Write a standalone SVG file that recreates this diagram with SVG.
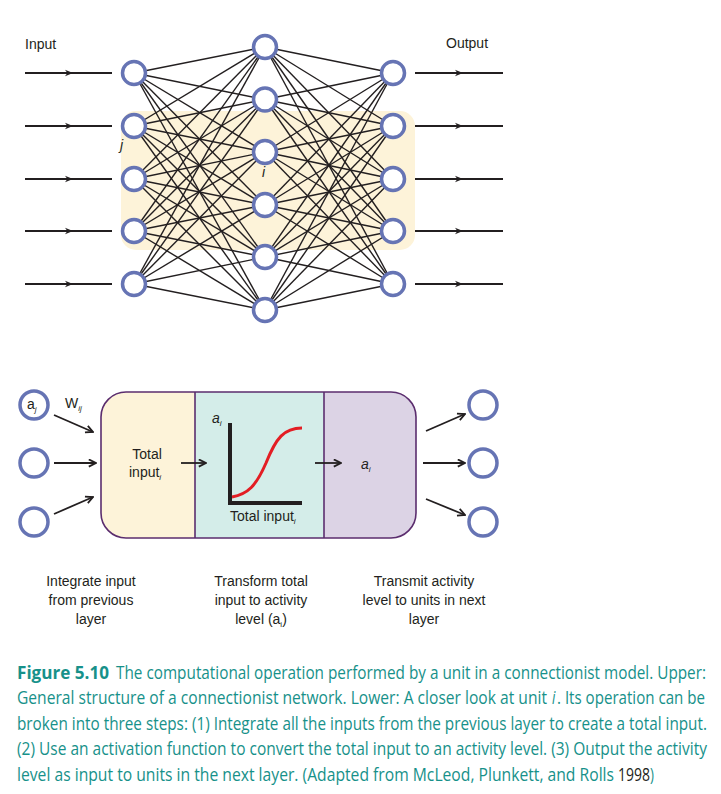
<svg xmlns="http://www.w3.org/2000/svg" width="721" height="794" viewBox="0 0 721 794">
<style>
.lbl{font-family:"Liberation Sans",Arial,sans-serif;font-size:14px;fill:#231f20}
.mid{text-anchor:middle}
.it{font-style:italic}
.sub{font-size:8px}
.node{fill:#fff;stroke:#6674b4;stroke-width:3.5}
.conn line{stroke:#231f20;stroke-width:1.4}
.io{stroke:#231f20;stroke-width:2;fill:none}
.arr{stroke:#231f20;stroke-width:1.8;fill:none}
.cap{font-family:"Open Sans",sans-serif;font-size:18px;fill:#17918a}
</style>
<defs>
<marker id="ah" viewBox="0 0 10 10" refX="10" refY="5" markerWidth="8" markerHeight="8" markerUnits="userSpaceOnUse" orient="auto">
<path d="M0,1 L10,5 L0,9 L3,5 z" fill="#231f20"/>
</marker>
<marker id="oh" viewBox="0 0 10 10" refX="9" refY="5" markerWidth="9" markerHeight="9" markerUnits="userSpaceOnUse" orient="auto">
<path d="M1,1 L9,5 L1,9" fill="none" stroke="#231f20" stroke-width="2"/>
</marker>
<clipPath id="boxclip"><rect x="101" y="392" width="315" height="146" rx="25"/></clipPath>
</defs>
<rect width="721" height="794" fill="#fff"/>

<!-- highlight -->
<rect x="121" y="111" width="294" height="139" rx="15" fill="#fdf3d9"/>

<text class="lbl" x="25" y="49">Input</text>
<text class="lbl" x="446" y="48">Output</text>

<g id="connectors" class="conn">
<line x1="134" y1="73" x2="265" y2="47"/><line x1="134" y1="73" x2="265" y2="99.5"/><line x1="134" y1="73" x2="265" y2="152"/><line x1="134" y1="73" x2="265" y2="205"/><line x1="134" y1="73" x2="265" y2="257"/><line x1="134" y1="73" x2="265" y2="310"/>
<line x1="134" y1="126" x2="265" y2="47"/><line x1="134" y1="126" x2="265" y2="99.5"/><line x1="134" y1="126" x2="265" y2="152"/><line x1="134" y1="126" x2="265" y2="205"/><line x1="134" y1="126" x2="265" y2="257"/><line x1="134" y1="126" x2="265" y2="310"/>
<line x1="134" y1="179" x2="265" y2="47"/><line x1="134" y1="179" x2="265" y2="99.5"/><line x1="134" y1="179" x2="265" y2="152"/><line x1="134" y1="179" x2="265" y2="205"/><line x1="134" y1="179" x2="265" y2="257"/><line x1="134" y1="179" x2="265" y2="310"/>
<line x1="134" y1="231" x2="265" y2="47"/><line x1="134" y1="231" x2="265" y2="99.5"/><line x1="134" y1="231" x2="265" y2="152"/><line x1="134" y1="231" x2="265" y2="205"/><line x1="134" y1="231" x2="265" y2="257"/><line x1="134" y1="231" x2="265" y2="310"/>
<line x1="134" y1="284" x2="265" y2="47"/><line x1="134" y1="284" x2="265" y2="99.5"/><line x1="134" y1="284" x2="265" y2="152"/><line x1="134" y1="284" x2="265" y2="205"/><line x1="134" y1="284" x2="265" y2="257"/><line x1="134" y1="284" x2="265" y2="310"/>
<line x1="393" y1="73" x2="265" y2="47"/><line x1="393" y1="73" x2="265" y2="99.5"/><line x1="393" y1="73" x2="265" y2="152"/><line x1="393" y1="73" x2="265" y2="205"/><line x1="393" y1="73" x2="265" y2="257"/><line x1="393" y1="73" x2="265" y2="310"/>
<line x1="393" y1="126" x2="265" y2="47"/><line x1="393" y1="126" x2="265" y2="99.5"/><line x1="393" y1="126" x2="265" y2="152"/><line x1="393" y1="126" x2="265" y2="205"/><line x1="393" y1="126" x2="265" y2="257"/><line x1="393" y1="126" x2="265" y2="310"/>
<line x1="393" y1="179" x2="265" y2="47"/><line x1="393" y1="179" x2="265" y2="99.5"/><line x1="393" y1="179" x2="265" y2="152"/><line x1="393" y1="179" x2="265" y2="205"/><line x1="393" y1="179" x2="265" y2="257"/><line x1="393" y1="179" x2="265" y2="310"/>
<line x1="393" y1="231" x2="265" y2="47"/><line x1="393" y1="231" x2="265" y2="99.5"/><line x1="393" y1="231" x2="265" y2="152"/><line x1="393" y1="231" x2="265" y2="205"/><line x1="393" y1="231" x2="265" y2="257"/><line x1="393" y1="231" x2="265" y2="310"/>
<line x1="393" y1="284" x2="265" y2="47"/><line x1="393" y1="284" x2="265" y2="99.5"/><line x1="393" y1="284" x2="265" y2="152"/><line x1="393" y1="284" x2="265" y2="205"/><line x1="393" y1="284" x2="265" y2="257"/><line x1="393" y1="284" x2="265" y2="310"/>
<path class="io" d="M25,73 H73 H112" marker-mid="url(#ah)"/>
<path class="io" d="M25,126 H73 H112" marker-mid="url(#ah)"/>
<path class="io" d="M25,179 H73 H112" marker-mid="url(#ah)"/>
<path class="io" d="M25,231 H73 H112" marker-mid="url(#ah)"/>
<path class="io" d="M25,284 H73 H112" marker-mid="url(#ah)"/>
<path class="io" d="M415,73 H463 H503" marker-mid="url(#ah)"/>
<path class="io" d="M415,126 H463 H503" marker-mid="url(#ah)"/>
<path class="io" d="M415,179 H463 H503" marker-mid="url(#ah)"/>
<path class="io" d="M415,231 H463 H503" marker-mid="url(#ah)"/>
<path class="io" d="M415,284 H463 H503" marker-mid="url(#ah)"/>
</g>

<g id="input-1"><circle class="node" cx="134" cy="73" r="11.5"/></g>
<g id="input-2"><circle class="node" cx="134" cy="126" r="11.5"/><text class="lbl it" x="120" y="150" font-size="13">j</text></g>
<g id="input-3"><circle class="node" cx="134" cy="179" r="11.5"/></g>
<g id="input-4"><circle class="node" cx="134" cy="231" r="11.5"/></g>
<g id="input-5"><circle class="node" cx="134" cy="284" r="11.5"/></g>
<g id="hidden-1"><circle class="node" cx="265" cy="47" r="11.5"/></g>
<g id="hidden-2"><circle class="node" cx="265" cy="99.5" r="11.5"/></g>
<g id="hidden-3"><circle class="node" cx="265" cy="152" r="11.5"/><text class="lbl it" x="262" y="177" font-size="13">i</text></g>
<g id="hidden-4"><circle class="node" cx="265" cy="205" r="11.5"/></g>
<g id="hidden-5"><circle class="node" cx="265" cy="257" r="11.5"/></g>
<g id="hidden-6"><circle class="node" cx="265" cy="310" r="11.5"/></g>
<g id="output-1"><circle class="node" cx="393" cy="73" r="11.5"/></g>
<g id="output-2"><circle class="node" cx="393" cy="126" r="11.5"/></g>
<g id="output-3"><circle class="node" cx="393" cy="179" r="11.5"/></g>
<g id="output-4"><circle class="node" cx="393" cy="231" r="11.5"/></g>
<g id="output-5"><circle class="node" cx="393" cy="284" r="11.5"/></g>

<!-- lower: unit i -->
<g id="unit-box">
<g clip-path="url(#boxclip)">
<rect x="101" y="392" width="94" height="146" fill="#fdf3d9"/>
<rect x="195" y="392" width="129" height="146" fill="#d4ede9"/>
<rect x="324" y="392" width="92" height="146" fill="#dcd3e5"/>
</g>
<rect x="101" y="392" width="315" height="146" rx="25" fill="none" stroke="#5b2d6e" stroke-width="1.6"/>
<line x1="195" y1="392" x2="195" y2="538" stroke="#5b2d6e" stroke-width="1.6"/>
<line x1="324" y1="392" x2="324" y2="538" stroke="#5b2d6e" stroke-width="1.6"/>
<text class="lbl mid" x="147" y="459">Total</text>
<text class="lbl" x="129" y="477">input<tspan class="sub it" dy="3">i</tspan></text>
<line x1="230" y1="423" x2="230" y2="505" stroke="#231f20" stroke-width="4"/>
<line x1="228" y1="503" x2="302" y2="503" stroke="#231f20" stroke-width="4"/>
<path d="M232,497 C248,494 256,486 266,463 C276,438 284,428 302,428" fill="none" stroke="#e31e24" stroke-width="3"/>
<text class="lbl it" x="212" y="423">a<tspan class="sub" dy="3">i</tspan></text>
<text class="lbl" x="230" y="521">Total input<tspan class="sub it" dy="3">i</tspan></text>
<text class="lbl it" x="361" y="469">a<tspan class="sub" dy="3">i</tspan></text>
</g>

<g id="in-a"><circle class="node" cx="34" cy="405" r="14"/><text class="lbl" x="27" y="409">a<tspan class="sub it" dy="3">j</tspan></text></g>
<g id="in-b"><circle class="node" cx="34" cy="463" r="14"/></g>
<g id="in-c"><circle class="node" cx="34" cy="522" r="14"/></g>
<g id="out-a"><circle class="node" cx="483" cy="405" r="14"/></g>
<g id="out-b"><circle class="node" cx="483" cy="463" r="14"/></g>
<g id="out-c"><circle class="node" cx="483" cy="522" r="14"/></g>
<text class="lbl" x="65" y="408">W<tspan class="sub it" dy="3">ij</tspan></text>

<g id="unit-connectors">
<line class="arr" x1="54" y1="415" x2="93" y2="432" marker-end="url(#oh)"/>
<line class="arr" x1="54" y1="463" x2="96" y2="463" marker-end="url(#oh)"/>
<line class="arr" x1="54" y1="514" x2="93" y2="497" marker-end="url(#oh)"/>
<line class="arr" x1="181" y1="463" x2="206" y2="463" marker-end="url(#oh)"/>
<line class="arr" x1="315" y1="463" x2="341" y2="463" marker-end="url(#oh)"/>
<line class="arr" x1="426" y1="431" x2="465" y2="414" marker-end="url(#oh)"/>
<line class="arr" x1="423" y1="463" x2="465" y2="463" marker-end="url(#oh)"/>
<line class="arr" x1="426" y1="499" x2="465" y2="515" marker-end="url(#oh)"/>
</g>

<g id="step-labels">
<text class="lbl mid" x="91" y="586">Integrate input</text>
<text class="lbl mid" x="91" y="605">from previous</text>
<text class="lbl mid" x="91" y="624">layer</text>
<text class="lbl mid" x="261" y="586">Transform total</text>
<text class="lbl mid" x="261" y="605">input to activity</text>
<text class="lbl mid" x="261" y="624">level (a<tspan class="sub" dy="3">i</tspan><tspan dy="-3">)</tspan></text>
<text class="lbl mid" x="424" y="586">Transmit activity</text>
<text class="lbl mid" x="424" y="605">level to units in next</text>
<text class="lbl mid" x="424" y="624">layer</text>
</g>

<g id="caption">
<text class="cap" transform="matrix(0.74,0,0,1,17,679)" font-weight="bold" textLength="124.3" lengthAdjust="spacingAndGlyphs">Figure 5.10</text>
<text class="cap" transform="matrix(0.74,0,0,1,116,679)" textLength="797.3" lengthAdjust="spacingAndGlyphs">The computational operation performed by a unit in a connectionist model. Upper:</text>
<text class="cap" transform="matrix(0.74,0,0,1,17,704)" textLength="716.2" lengthAdjust="spacingAndGlyphs">General structure of a connectionist network. Lower: A closer look at unit</text>
<text class="cap" transform="matrix(0.74,0,0,1,552,704)" font-style="italic">i</text>
<text class="cap" transform="matrix(0.74,0,0,1,557,704)" textLength="200" lengthAdjust="spacingAndGlyphs">. Its operation can be</text>
<text class="cap" transform="matrix(0.74,0,0,1,17,730)" textLength="932.4" lengthAdjust="spacingAndGlyphs">broken into three steps: (1) Integrate all the inputs from the previous layer to create a total input.</text>
<text class="cap" transform="matrix(0.74,0,0,1,17,755)" textLength="932.4" lengthAdjust="spacingAndGlyphs">(2) Use an activation function to convert the total input to an activity level. (3) Output the activity</text>
<text class="cap" transform="matrix(0.74,0,0,1,17,781)" textLength="806.8" lengthAdjust="spacingAndGlyphs">level as input to units in the next layer. (Adapted from McLeod, Plunkett, and Rolls</text>
<text class="cap" transform="matrix(0.74,0,0,1,618,781)" style="fill:#231f20" textLength="43.2" lengthAdjust="spacingAndGlyphs">1998</text>
<text class="cap" transform="matrix(0.74,0,0,1,650,781)">)</text>
</g>
</svg>
